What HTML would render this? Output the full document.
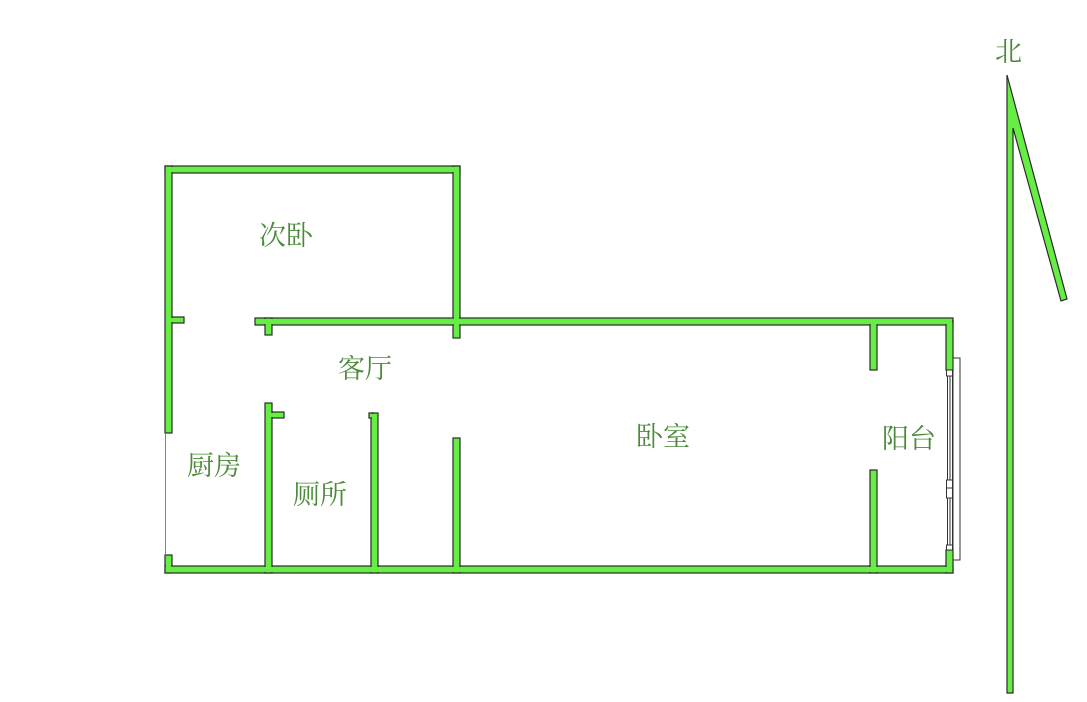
<!DOCTYPE html>
<html><head><meta charset="utf-8"><style>
html,body{margin:0;padding:0;background:#fff;}
svg{display:block;}
text{font-family:"Liberation Sans","Noto Serif CJK SC","Noto Sans CJK SC",sans-serif;font-size:27px;fill:#4a8a38;}
</style></head><body>
<svg width="1087" height="702" viewBox="0 0 1087 702" xmlns="http://www.w3.org/2000/svg">
<defs>
<g id="w">
<rect x="165" y="166" width="295" height="7"/>
<rect x="165" y="166" width="7" height="267"/>
<rect x="172" y="317" width="12" height="6"/>
<rect x="453" y="166" width="7" height="172"/>
<rect x="255" y="318" width="698" height="7"/>
<rect x="265" y="318" width="7" height="17"/>
<rect x="165" y="555" width="7" height="18"/>
<rect x="165" y="566" width="788" height="7"/>
<rect x="946" y="321" width="7" height="49"/>
<rect x="946" y="550" width="7" height="23"/>
<rect x="265" y="403" width="7" height="170"/>
<rect x="272" y="412" width="12" height="6"/>
<rect x="371" y="413" width="7" height="160"/>
<rect x="369" y="413" width="4" height="5"/>
<rect x="453" y="438" width="7" height="135"/>
<rect x="870" y="321" width="7" height="49"/>
<rect x="870" y="470" width="7" height="103"/>
</g>
</defs>
<use href="#w" fill="#66ee44" stroke="#2a2a2a" stroke-width="1.2"/>
<g fill="#66ee44">
<rect x="166" y="167" width="293" height="5"/>
<rect x="166" y="167" width="5" height="265"/>
<rect x="171" y="318" width="12" height="4"/>
<rect x="454" y="167" width="5" height="170"/>
<rect x="256" y="319" width="696" height="5"/>
<rect x="266" y="319" width="5" height="15"/>
<rect x="166" y="556" width="5" height="16"/>
<rect x="166" y="567" width="786" height="5"/>
<rect x="947" y="322" width="5" height="47"/>
<rect x="947" y="551" width="5" height="21"/>
<rect x="266" y="404" width="5" height="168"/>
<rect x="271" y="413" width="12" height="4"/>
<rect x="372" y="414" width="5" height="158"/>
<rect x="454" y="439" width="5" height="133"/>
<rect x="871" y="322" width="5" height="47"/>
<rect x="871" y="471" width="5" height="101"/>
</g>
<line x1="165.5" y1="433" x2="165.5" y2="555" stroke="#8a8a5a" stroke-width="1"/>
<g fill="none" stroke="#333" stroke-width="1">
<rect x="947.5" y="370" width="5" height="180"/>
<line x1="950" y1="370" x2="950" y2="550"/>
<rect x="953" y="358" width="7" height="202"/>
<rect x="946.5" y="370" width="6" height="6" fill="#fff"/>
<rect x="946.5" y="480" width="6" height="8" fill="#fff"/>
<rect x="946.5" y="488" width="6" height="10" fill="#fff"/>
<rect x="946.5" y="545" width="6" height="5" fill="#fff"/>
</g>
<polygon points="1007,75 1007,693 1013,693 1013,128 1061,301 1067,299" fill="#66ee44" stroke="#2a2a2a" stroke-width="1.2"/>
<text x="995" y="61">北</text>
<text x="259" y="245">次卧</text>
<text x="338" y="378">客厅</text>
<text x="187" y="475">厨房</text>
<text x="293" y="504">厕所</text>
<text x="636" y="446">卧室</text>
<text x="882" y="448">阳台</text>
</svg>
</body></html>
